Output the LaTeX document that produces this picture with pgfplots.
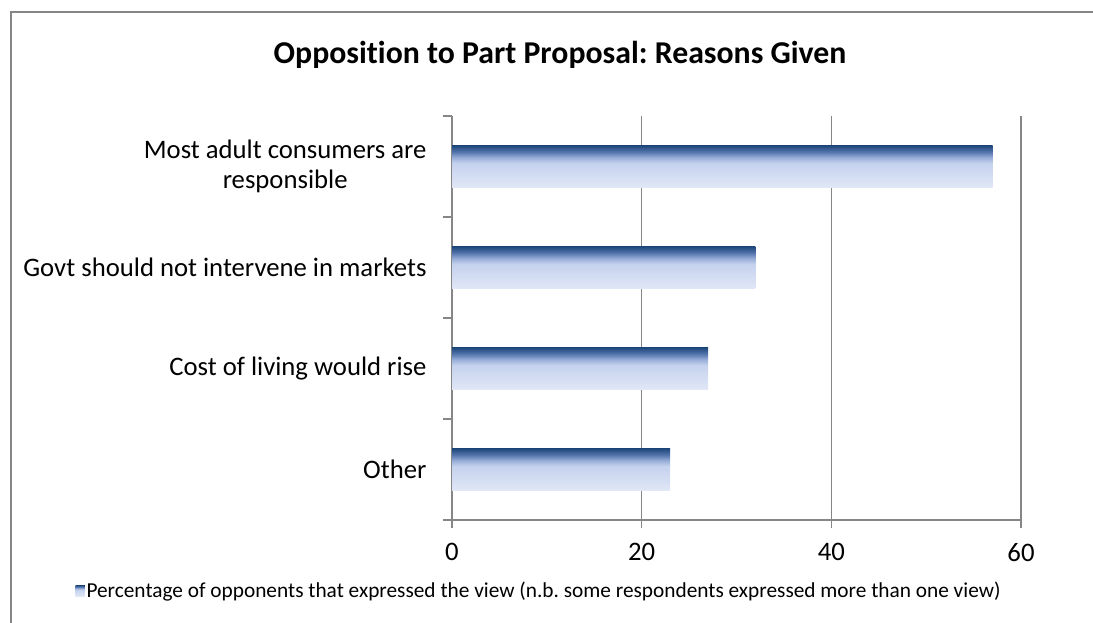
\documentclass[border=0pt]{standalone}
\usepackage{pgfplots}
\pgfplotsset{compat=1.18}
\usepackage{fontspec}
\setmainfont{Carlito}[Ligatures=NoCommon]
\frenchspacing
\definecolor{gridgray}{RGB}{134,134,134}
\definecolor{c1}{RGB}{224,231,246}
\definecolor{c2}{RGB}{197,210,238}
\definecolor{c3}{RGB}{150,172,215}
\definecolor{c4}{RGB}{80,114,168}
\definecolor{c5}{RGB}{31,72,125}
\pgfdeclareverticalshading{barshade}{100bp}{color(0bp)=(c1); color(25bp)=(c1); color(54bp)=(c2); color(61bp)=(c3); color(68bp)=(c4); color(75bp)=(c5); color(100bp)=(c5)}
\begin{document}
\frenchspacing
\begin{tikzpicture}
\useasboundingbox (0,0) rectangle (1093bp,623bp);
\draw[gridgray, line width=1.3bp] (11bp,0bp) -- (11bp,611bp) -- (1093bp,611bp);
\begin{axis}[
  at={(452bp,103bp)}, anchor=south west, scale only axis,
  width=569bp, height=404bp,
  xmin=0, xmax=60, ymin=-0.5, ymax=3.5,
  xbar, bar width=41.5bp, bar shift=0pt,
  axis x line*=bottom, axis y line*=left,
  axis line style={gridgray, line width=1.3bp, -},
  xtick={0,20,40,60},
  xmajorgrids, major grid style={gridgray, line width=1.1bp},
  ytick={0,1,2,3},
  yticklabels={Other, Cost of living would rise, Govt should not intervene in markets, {Most adult consumers are\\responsible}},
  minor ytick={-0.5,0.5,1.5,2.5,3.5},
  tick align=outside,
  tick style={gridgray, line width=1.3bp},
  major tick length=8bp, minor tick length=9bp,
  major y tick style={draw=none},
  /pgf/number format/assume math mode=true,
  xticklabel style={font=\fontsize{26.8}{30}\selectfont, yshift=-12bp},
  yticklabel style={font=\fontsize{26.8}{30}\selectfont, align=center, xshift=-14bp},
  legend style={draw=none, at={(-0.662,-0.175)}, anchor=west, font=\fontsize{21.4}{25}\selectfont\frenchspacing, inner sep=0pt, legend cell align=left},
  legend image code/.code={\fill[shading=barshade] (0bp,-5.5bp) rectangle (9bp,5.5bp);},
]
\addplot[draw=none, shading=barshade] coordinates {(57,3)};
\addlegendentry{Percentage of opponents that expressed the view (n.b. some respondents expressed more than one view)}
\addplot[draw=none, shading=barshade, forget plot] coordinates {(32,2)};
\addplot[draw=none, shading=barshade, forget plot] coordinates {(27,1)};
\addplot[draw=none, shading=barshade, forget plot] coordinates {(23,0)};
\end{axis}
\node[font=\fontsize{31.9}{36}\selectfont\bfseries\frenchspacing] at (560bp,568bp) {Opposition to Part Proposal: Reasons Given};
\end{tikzpicture}
\end{document}
